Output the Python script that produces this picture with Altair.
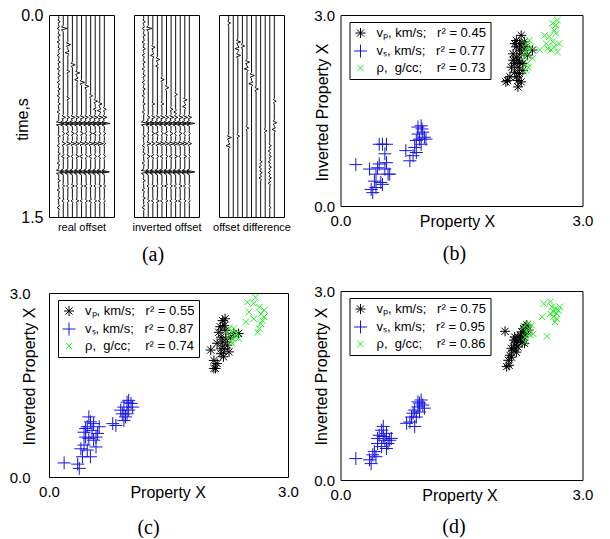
import altair as alt
import numpy as np
import pandas as pd

FONT = "Liberation Sans"
SERIF = "Liberation Serif"

# ---------------- panel (a): seismic wiggle traces ----------------
trace_ids = [1, 2, 3, 4, 5, 6, 7, 8, 9, 10, 11]
wav_dt = [-0.022, -0.011, 0.0, 0.011, 0.022]
wav_amp = [0.0, -0.45, 1.0, -0.45, 0.0]

refl_times = [0.76, 0.805, 0.88, 0.955, 1.05, 1.165, 1.27, 1.38]
real_refl_amp = [
    [0.0, 0.5, 0.4, 0.6, 0.5, 0.6, 0.5, 0.6, 0.6, 0.7, 0.6],
    [1.1, 1.3, 1.2, 1.3, 1.2, 1.3, 1.2, 1.3, 1.3, 1.3, 1.2],
    [0.0, 0.3, -0.4, 0.4, -0.3, 0.4, -0.3, 0.4, -0.4, 0.3, 0.3],
    [0.0, 0.5, 0.6, 0.7, 0.6, 0.7, 0.6, 0.8, 0.7, 0.8, 0.3],
    [0.0, -0.4, 0.4, -0.3, 0.4, -0.4, 0.3, -0.4, 0.3, -0.3, 0.3],
    [1.1, 1.3, 1.2, 1.3, 1.2, 1.3, 1.2, 1.3, 1.3, 1.3, 1.1],
    [0.0, 0.3, -0.3, 0.4, -0.3, 0.3, -0.4, 0.3, -0.3, 0.4, 0.3],
    [0.0, -0.3, 0.3, -0.3, 0.4, -0.3, 0.3, -0.4, 0.3, -0.3, 0.2],
]
inv_refl_amp = [
    [0.0, 0.4, 0.5, 0.5, 0.6, 0.5, 0.6, 0.5, 0.6, 0.6, 0.5],
    [1.1, 1.2, 1.3, 1.2, 1.3, 1.2, 1.3, 1.2, 1.3, 1.2, 1.2],
    [0.0, -0.3, 0.4, -0.4, 0.3, -0.4, 0.4, -0.3, 0.4, -0.3, 0.2],
    [0.0, 0.6, 0.5, 0.7, 0.7, 0.6, 0.8, 0.7, 0.8, 0.7, 0.5],
    [0.0, 0.4, -0.4, 0.3, -0.4, 0.3, -0.4, 0.4, -0.3, 0.4, 0.2],
    [1.1, 1.2, 1.3, 1.2, 1.3, 1.2, 1.3, 1.2, 1.3, 1.2, 1.2],
    [0.0, -0.3, 0.4, -0.3, 0.3, -0.4, 0.3, -0.3, 0.4, -0.3, 0.2],
    [0.0, 0.3, -0.3, 0.4, -0.3, 0.3, -0.3, 0.3, -0.4, 0.3, 0.2],
]
diff_refl_amp = [[0.0] * 11 for _ in refl_times]

ring1_times = [0.05, 0.10, 0.15, 0.20, 0.25, 0.30, 0.35, 0.40, 0.45, 0.50, 0.55,
               0.60, 0.66, 0.72, 0.90, 0.97, 1.03, 1.10, 1.23, 1.30, 1.36, 1.43]
ring1_amps = [0.35, -0.35, 0.35, -0.35, 0.35, -0.35, 0.35, -0.35, 0.35, -0.35, 0.35,
              -0.35, 0.35, -0.35, 0.35, -0.35, 0.35, -0.35, 0.35, -0.35, 0.35, -0.35]

real_ev_trace = [2, 3, 3, 3, 4, 5, 5, 6, 7, 8, 9, 10, 10, 11, 3, 9]
real_ev_time = [0.10, 0.22, 0.28, 0.42, 0.37, 0.43, 0.48, 0.50, 0.53, 0.60, 0.64, 0.66, 0.71, 0.70, 0.62, 0.70]
real_ev_amp = [0.9, 0.6, -0.6, 0.4, 0.6, 0.6, -0.5, 0.7, 0.6, 0.4, 0.5, 0.5, -0.5, 0.4, 0.4, -0.4]

inv_ev_trace = [2, 3, 3, 4, 4, 5, 6, 8, 10, 10, 3, 5, 7, 8]
inv_ev_time = [0.10, 0.24, 0.30, 0.33, 0.38, 0.48, 0.54, 0.59, 0.63, 0.68, 0.66, 0.66, 0.70, 0.72]
inv_ev_amp = [0.8, 0.5, -0.5, 0.5, -0.4, 0.5, 0.5, 0.4, 0.5, -0.5, 0.4, 0.4, 0.4, -0.4]

diff_ev_trace = [1, 3, 3, 3, 4, 5, 5, 6, 6, 7, 11, 1, 1, 3, 5, 9, 11, 11,
                 10, 10, 10, 10, 10, 10, 10, 10, 8, 8, 8, 8, 10]
diff_ev_time = [0.06, 0.20, 0.25, 0.30, 0.23, 0.35, 0.40, 0.45, 0.51, 0.55, 0.64, 0.91, 0.97, 0.90, 0.84, 0.86, 0.80, 0.85,
                0.97, 1.01, 1.05, 1.09, 1.13, 1.17, 1.21, 1.25, 1.09, 1.13, 1.17, 1.21, 1.43]
diff_ev_amp = [0.4, 0.6, -0.6, 0.6, 0.5, 0.6, -0.6, 0.6, -0.6, 0.5, 0.4, 0.6, -0.6, 0.4, 0.4, 0.4, 0.5, -0.5,
               0.35, -0.35, 0.35, -0.35, 0.35, -0.35, 0.35, -0.35, 0.35, -0.35, 0.35, -0.35, 0.3]


def build_traces(refl_amp, ev_trace, ev_time, ev_amp, ringing):
    events = []
    for rt, amps in zip(refl_times, refl_amp):
        for tid, a in zip(trace_ids, amps):
            if a != 0:
                events.append((tid, rt, a))
    events += list(zip(ev_trace, ev_time, ev_amp))
    if ringing:
        events += [(1, t, a) for t, a in zip(ring1_times, ring1_amps)]
    rows = []
    for tid in trace_ids:
        evs = [(t, a) for (tr, t, a) in events if tr == tid]
        ts = {0.0, 1.5}
        for t, _ in evs:
            for d in wav_dt:
                v = round(t + d, 4)
                if 0.0 <= v <= 1.5:
                    ts.add(v)
        for t in sorted(ts):
            off = sum(a * float(np.interp(t - te, wav_dt, wav_amp, left=0.0, right=0.0)) for te, a in evs)
            rows.append({"trace": tid, "t": t, "x": tid + off})
    return pd.DataFrame(rows)


def seismic(df, xtitle, with_y, title=None):
    if with_y:
        yaxis = alt.Axis(values=[0, 1.5], format=".1f", ticks=False, domain=False, grid=False,
                         labelPadding=6, labelFontSize=16, labelFlush=False,
                         title="time,s", titleFontSize=16, titleX=-35, titleY=104,
                         titleBaseline="top", titleAlign="center")
    else:
        yaxis = None
    ch = alt.Chart(df).mark_line(color="#111111", strokeWidth=1).encode(
        x=alt.X("x:Q", scale=alt.Scale(domain=[-1.13, 13.12], nice=False, zero=False),
                axis=alt.Axis(labels=False, ticks=False, domain=False, grid=False,
                              title=xtitle, titleFontSize=11, titlePadding=4)),
        y=alt.Y("t:Q", scale=alt.Scale(domain=[0, 1.5], reverse=True, nice=False, zero=False), axis=yaxis),
        detail="trace:N",
        order="t:Q",
    )
    if title is not None:
        return ch.properties(width=65, height=202, title=title)
    return ch.properties(width=65, height=202)


cap_a = alt.TitleParams("(a)", orient="bottom", anchor="middle", frame="group", font=SERIF,
                        fontSize=20, fontWeight="normal", color="black", dx=-13.5, offset=13)
a1 = seismic(build_traces(real_refl_amp, real_ev_trace, real_ev_time, real_ev_amp, True), "real offset", True)
a2 = seismic(build_traces(inv_refl_amp, inv_ev_trace, inv_ev_time, inv_ev_amp, True), "inverted offset", False, cap_a)
a3 = seismic(build_traces(diff_refl_amp, diff_ev_trace, diff_ev_time, diff_ev_amp, False), "offset difference", False)

# ---------------- panels (b), (c), (d): scatter ----------------
b_vp_x = [2.07, 2.05, 2.20, 2.18, 2.24, 2.16, 2.22, 2.14, 2.20, 2.26, 2.18, 2.30, 2.38, 2.16, 2.22, 2.12,
          2.28, 2.24, 2.18, 2.14, 2.26, 2.20, 2.10, 2.22, 2.32, 2.18, 2.22, 2.16, 2.24, 2.20, 2.25]
b_vp_y = [1.97, 1.95, 1.87, 2.03, 2.68, 2.55, 2.45, 2.29, 2.18, 2.24, 2.34, 2.50, 2.45, 2.10, 2.08, 2.18,
          2.58, 2.39, 2.60, 2.39, 2.13, 1.97, 2.03, 2.26, 2.37, 2.50, 2.55, 2.24, 1.95, 2.29, 2.50]
b_vs_x = [0.19, 0.36, 0.38, 0.40, 0.44, 0.48, 0.52, 0.55, 0.57, 0.59, 0.52, 0.48, 0.42, 0.46, 0.57, 0.61,
          0.55, 0.50, 0.44, 0.81, 0.86, 0.92, 0.94, 0.96, 1.00, 1.02, 1.04, 0.98, 0.94, 1.00, 1.06, 0.90,
          0.96, 1.01]
b_vs_y = [0.65, 0.58, 0.26, 0.21, 0.50, 0.97, 0.97, 0.82, 0.68, 0.50, 0.34, 0.66, 0.39, 0.60, 0.97, 0.50,
          0.58, 0.37, 0.29, 0.87, 0.71, 0.92, 1.03, 1.24, 1.26, 1.16, 1.08, 1.05, 0.84, 0.97, 1.05, 0.79,
          1.13, 1.21]
b_rho_x = [2.30, 2.34, 2.28, 2.32, 2.36, 2.30, 2.34, 2.38, 2.29, 2.33, 2.47, 2.53, 2.55, 2.59, 2.63, 2.65,
           2.67, 2.65, 2.69, 2.61, 2.67, 2.71, 2.57, 2.69, 2.63]
b_rho_y = [2.55, 2.45, 2.34, 2.24, 2.50, 2.13, 2.60, 2.32, 2.42, 2.18, 2.45, 2.68, 2.55, 2.66, 2.58, 2.76,
           2.84, 2.50, 2.42, 2.45, 2.71, 2.55, 2.47, 2.92, 2.87]

c_vp_x = [2.03, 2.07, 2.09, 2.11, 2.16, 2.18, 2.20, 2.22, 2.16, 2.18, 2.20, 2.24, 2.28, 2.32, 2.38, 2.13,
          2.19, 2.11, 2.22, 2.16, 2.26, 2.07, 2.15, 2.21]
c_vp_y = [2.07, 1.90, 1.77, 1.85, 2.01, 2.55, 2.47, 2.39, 2.28, 2.20, 2.09, 2.15, 2.28, 2.34, 2.34, 2.36,
          1.96, 2.18, 2.25, 2.09, 2.04, 1.77, 2.45, 2.58]
c_vs_x = [0.19, 0.36, 0.38, 0.42, 0.44, 0.46, 0.48, 0.50, 0.52, 0.54, 0.56, 0.59, 0.61, 0.48, 0.52, 0.50,
          0.46, 0.56, 0.59, 0.44, 0.40, 0.63, 0.80, 0.84, 0.90, 0.94, 0.98, 1.00, 1.03, 0.96, 0.92, 1.00,
          1.05, 0.94, 0.98]
c_vs_y = [0.23, 0.21, 0.14, 0.33, 0.52, 0.65, 0.82, 0.98, 0.90, 0.76, 0.60, 0.49, 0.71, 0.44, 0.33, 0.63,
          0.79, 0.87, 0.65, 0.73, 0.46, 0.82, 0.87, 0.84, 1.09, 1.14, 1.22, 1.09, 1.20, 0.98, 1.03, 1.25,
          1.14, 0.92, 1.03]
c_rho_x = [2.26, 2.30, 2.34, 2.28, 2.32, 2.36, 2.30, 2.26, 2.38, 2.49, 2.51, 2.47, 2.57, 2.59, 2.64, 2.66,
           2.68, 2.64, 2.62, 2.70, 2.57, 2.66, 2.70]
c_rho_y = [2.42, 2.36, 2.28, 2.23, 2.42, 2.34, 2.18, 2.31, 2.26, 2.85, 2.69, 2.53, 2.83, 2.93, 2.77, 2.66,
           2.55, 2.42, 2.36, 2.72, 2.58, 2.50, 2.61]

d_vp_x = [2.04, 2.06, 2.08, 2.10, 2.12, 2.14, 2.16, 2.15, 2.18, 2.20, 2.23, 2.25, 2.27, 2.29, 2.31, 2.20,
          2.25, 2.27, 2.18, 2.12, 2.29, 2.33, 2.23, 2.16, 2.09, 2.28]
d_vp_y = [2.36, 1.80, 1.90, 1.98, 1.95, 2.06, 2.14, 2.22, 2.19, 2.27, 2.30, 2.35, 2.40, 2.43, 2.46, 2.11,
          2.19, 2.27, 2.03, 2.09, 2.32, 2.38, 2.22, 2.27, 1.82, 2.17]
d_vs_x = [0.19, 0.36, 0.38, 0.40, 0.42, 0.46, 0.48, 0.51, 0.53, 0.55, 0.57, 0.59, 0.61, 0.51, 0.44, 0.57,
          0.63, 0.53, 0.46, 0.82, 0.86, 0.88, 0.90, 0.92, 0.94, 0.96, 0.98, 1.00, 1.02, 1.04, 0.92, 0.98,
          0.96]
d_vs_y = [0.34, 0.32, 0.26, 0.40, 0.45, 0.58, 0.71, 0.79, 0.69, 0.63, 0.74, 0.58, 0.63, 0.53, 0.37, 0.50,
          0.66, 0.85, 0.66, 0.90, 0.92, 1.00, 1.06, 1.11, 1.00, 1.16, 1.22, 1.27, 1.19, 1.14, 0.85, 1.08,
          1.24]
d_rho_x = [2.27, 2.31, 2.29, 2.33, 2.35, 2.29, 2.37, 2.32, 2.39, 2.50, 2.52, 2.56, 2.60, 2.62, 2.64, 2.66,
           2.68, 2.70, 2.64, 2.60, 2.66, 2.72, 2.68]
d_rho_y = [2.43, 2.35, 2.27, 2.40, 2.30, 2.19, 2.46, 2.48, 2.32, 2.59, 2.80, 2.28, 2.83, 2.75, 2.67, 2.72,
           2.64, 2.69, 2.59, 2.64, 2.51, 2.75, 2.56]

NB = "\u00a0"
b_labels = ["v\u209a, km/s;" + NB + NB + " r\u00b2 = 0.45", "v\u209b, km/s;" + NB + NB + " r\u00b2 = 0.77",
            "\u03c1," + NB + " g/cc;" + NB + NB + NB + " r\u00b2 = 0.73"]
c_labels = ["v\u209a, km/s;" + NB + NB + " r\u00b2 = 0.55", "v\u209b, km/s;" + NB + NB + " r\u00b2 = 0.87",
            "\u03c1," + NB + " g/cc;" + NB + NB + NB + " r\u00b2 = 0.74"]
d_labels = ["v\u209a, km/s;" + NB + NB + " r\u00b2 = 0.75", "v\u209b, km/s;" + NB + NB + " r\u00b2 = 0.95",
            "\u03c1," + NB + " g/cc;" + NB + NB + NB + " r\u00b2 = 0.86"]

series_colors = ["#000000", "#1414e6", "#22ee22"]
SHAPE_AST = "M-0.77,0L0.77,0M0,-0.77L0,0.77M-0.55,-0.55L0.55,0.55M-0.55,0.55L0.55,-0.55"
SHAPE_PLUS = "M-1,0L1,0M0,-1L0,1"
SHAPE_X = "M-0.5,-0.5L0.5,0.5M-0.5,0.5L0.5,-0.5"


def scatter(vp, vs, rho, labels, w, h, lab_pad_y, title_x, title_xx, title_yy, caption, cap_dx, cap_off):
    frames = []
    for (xs, ys), lab in zip([vp, vs, rho], labels):
        frames.append(pd.DataFrame({"x": xs, "y": ys, "series": lab}))
    df = pd.concat(frames, ignore_index=True)
    return alt.Chart(df).mark_point(filled=False, strokeWidth=1, opacity=1, size=169).encode(
        x=alt.X("x:Q", scale=alt.Scale(domain=[0, 3], nice=False, zero=False),
                axis=alt.Axis(values=[0, 3], format=".1f", ticks=False, domain=False, grid=False,
                              labelFlush=False, labelPadding=7, labelFontSize=15,
                              title="Property X", titleFontSize=16, titleX=title_x, titleY=20.5,
                              titleBaseline="alphabetic", titleAlign="center")),
        y=alt.Y("y:Q", scale=alt.Scale(domain=[0, 3], nice=False, zero=False),
                axis=alt.Axis(values=[0, 3], format=".1f", ticks=False, domain=False, grid=False,
                              labelFlush=False, labelPadding=lab_pad_y, labelFontSize=15,
                              title="Inverted Property X", titleFontSize=16, titleX=title_xx,
                              titleY=title_yy, titleBaseline="alphabetic", titleAlign="center")),
        color=alt.Color("series:N", scale=alt.Scale(domain=labels, range=series_colors),
                        legend=alt.Legend(title=None, orient="none", legendX=9, legendY=7,
                                          direction="vertical", strokeColor="black", fillColor="white",
                                          padding=4, labelFont=FONT, labelFontSize=13, labelColor="black",
                                          labelOffset=9, rowPadding=1, symbolStrokeWidth=1, symbolSize=169,
                                          labelLimit=300)),
        shape=alt.Shape("series:N", scale=alt.Scale(domain=labels, range=[SHAPE_AST, SHAPE_PLUS, SHAPE_X])),
    ).properties(
        width=w, height=h,
        title=alt.TitleParams(caption, orient="bottom", anchor="middle", frame="group", font=SERIF,
                              fontSize=20, fontWeight="normal", color="black", dx=cap_dx, offset=cap_off),
    )


b_chart = scatter((b_vp_x, b_vp_y), (b_vs_x, b_vs_y), (b_rho_x, b_rho_y), b_labels,
                  242, 191, 6, 116.5, -13, 97, "(b)", -7, 14)
c_chart = scatter((c_vp_x, c_vp_y), (c_vs_x, c_vs_y), (c_rho_x, c_rho_y), c_labels,
                  239, 184, 19, 118.7, -14.5, 83, "(c)", -20, 17)
d_chart = scatter((d_vp_x, d_vp_y), (d_vs_x, d_vs_y), (d_rho_x, d_rho_y), d_labels,
                  242, 189, 6, 119, -14.5, 85, "(d)", -7.5, 13)

a_row = alt.hconcat(a1, a2, a3, spacing=20, bounds="flush")
left = alt.vconcat(a_row, c_chart, spacing=19).resolve_scale(color="independent", shape="independent")
right = alt.vconcat(b_chart, d_chart, spacing=19).resolve_scale(color="independent", shape="independent")

chart = alt.hconcat(left, right, spacing=13.5).resolve_scale(
    color="independent", shape="independent"
).properties(padding={"left": 0, "top": -2, "right": 0, "bottom": 0}).configure(background="white").configure_view(
    stroke="black", strokeWidth=1
).configure_axis(
    labelFont=FONT, titleFont=FONT, labelColor="black", titleColor="black", titleFontWeight="normal"
)

chart.save("out.html", embed_options={"renderer": "svg", "actions": False})
